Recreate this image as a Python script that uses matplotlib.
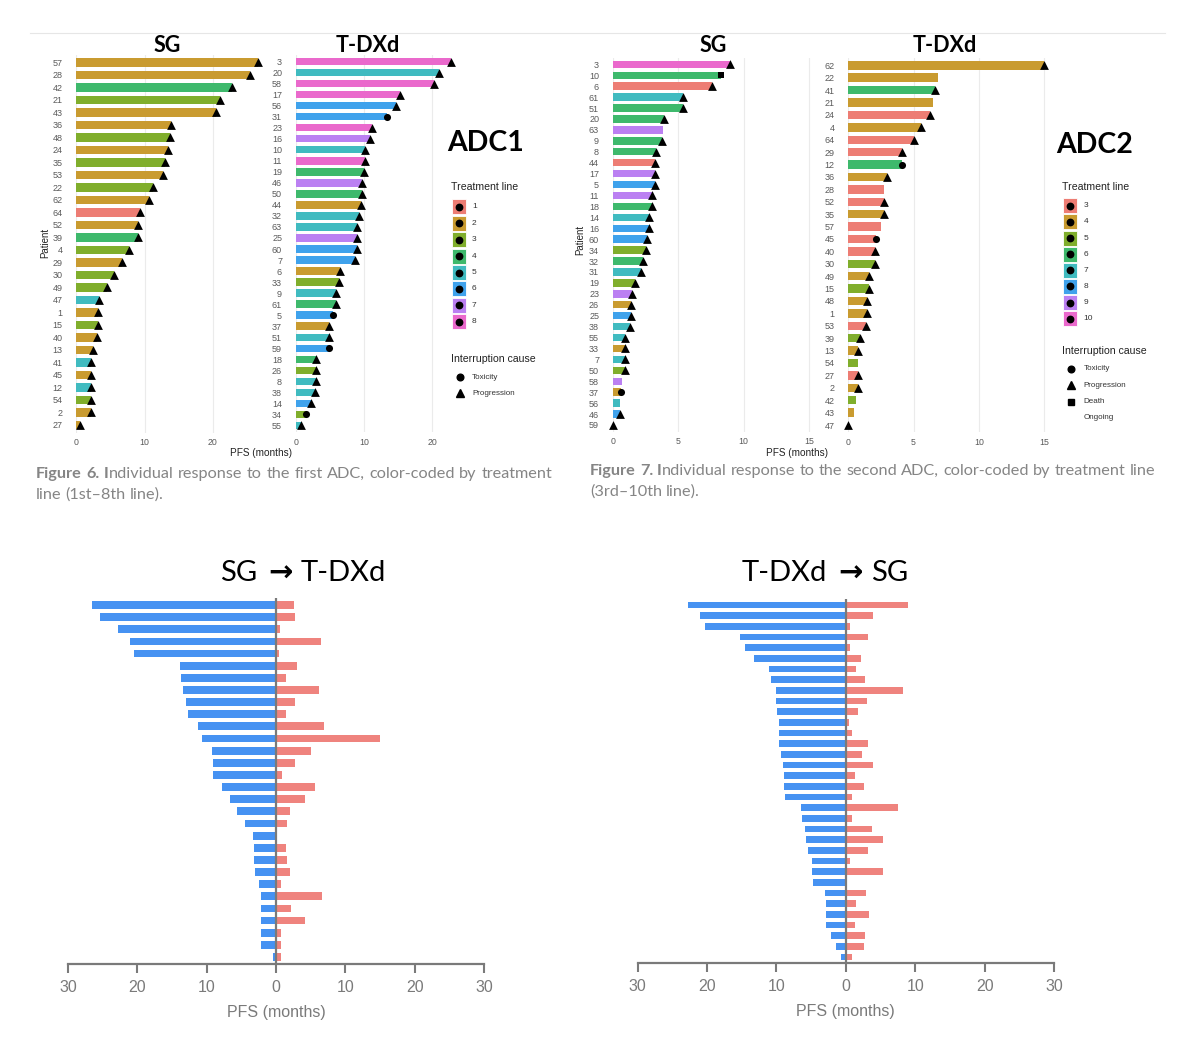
import matplotlib
matplotlib.use("Agg")
import matplotlib.pyplot as plt
from matplotlib.patches import Rectangle
import numpy as np

W, H = 1200, 1038

# ---- Figure 6: first ADC ----
adc1_sg_patient = [57, 28, 42, 21, 43, 36, 48, 24, 35, 53, 22, 62, 64, 52, 39,
                   4, 29, 30, 49, 47, 1, 15, 40, 13, 41, 45, 12, 54, 2, 27]
adc1_sg_pfs = [26.6, 25.4, 22.8, 21.0, 20.5, 13.9, 13.7, 13.4, 13.0, 12.7, 11.3, 10.7, 9.3, 9.1, 9.1,
               7.8, 6.7, 5.6, 4.5, 3.3, 3.2, 3.2, 3.0, 2.5, 2.2, 2.1, 2.1, 2.1, 2.1, 0.5]
adc1_sg_line = [2, 2, 4, 3, 2, 2, 3, 2, 3, 2, 3, 2, 1, 2, 4,
                3, 2, 3, 3, 5, 2, 3, 2, 2, 5, 2, 5, 3, 2, 2]
adc1_sg_cause = ["P", "P", "P", "P", "P", "P", "P", "P", "P", "P", "P", "P", "P", "P", "P",
                 "P", "P", "P", "P", "P", "P", "P", "P", "P", "P", "P", "P", "P", "P", "P"]

adc1_tdxd_patient = [3, 20, 58, 17, 56, 31, 23, 16, 10, 11, 19, 46, 50, 44, 32, 63, 25,
                     60, 7, 6, 33, 9, 61, 5, 37, 51, 59, 18, 26, 8, 38, 14, 34, 55]
adc1_tdxd_pfs = [22.8, 21.0, 20.3, 15.3, 14.6, 13.3, 11.1, 10.8, 10.1, 10.1, 9.9, 9.7, 9.7, 9.6, 9.3, 9.0, 8.9,
                 8.9, 8.7, 6.4, 6.3, 5.9, 5.8, 5.4, 4.9, 4.9, 4.8, 3.0, 2.9, 2.9, 2.8, 2.2, 1.4, 0.7]
adc1_tdxd_line = [8, 5, 8, 8, 6, 6, 8, 7, 5, 8, 4, 7, 4, 2, 5, 5, 7,
                  6, 6, 2, 3, 5, 4, 6, 2, 5, 6, 4, 3, 5, 5, 6, 3, 5]
adc1_tdxd_cause = ["P", "P", "P", "P", "P", "T", "P", "P", "P", "P", "P", "P", "P", "P", "P", "P", "P",
                   "P", "P", "P", "P", "P", "P", "T", "P", "P", "T", "P", "P", "P", "P", "P", "T", "P"]

# ---- Figure 7: second ADC ----
adc2_sg_patient = [3, 10, 6, 61, 51, 20, 63, 9, 8, 44, 17, 5, 11, 18, 14, 16, 60,
                   34, 32, 31, 19, 23, 26, 25, 38, 55, 33, 7, 50, 58, 37, 56, 46, 59]
adc2_sg_pfs = [8.95, 8.24, 7.58, 5.38, 5.33, 3.93, 3.85, 3.75, 3.29, 3.24, 3.24, 3.19, 2.98, 2.96, 2.78, 2.76, 2.58,
               2.55, 2.32, 2.14, 1.71, 1.45, 1.40, 1.35, 1.30, 0.94, 0.92, 0.94, 0.89, 0.66, 0.59, 0.56, 0.51, 0.0]
adc2_sg_line = [10, 6, 3, 7, 6, 6, 9, 6, 6, 3, 9, 8, 9, 6, 7, 8, 8,
                5, 6, 7, 5, 9, 4, 8, 7, 7, 4, 7, 5, 9, 4, 7, 8, 7]
adc2_sg_cause = ["P", "D", "P", "P", "P", "P", "O", "P", "P", "P", "P", "P", "P", "P", "P", "P", "P",
                 "P", "P", "P", "P", "P", "P", "P", "P", "P", "P", "P", "P", "O", "T", "O", "P", "P"]

adc2_tdxd_patient = [62, 22, 41, 21, 24, 4, 64, 29, 12, 36, 28, 52, 35, 57, 45,
                     40, 30, 49, 15, 48, 1, 53, 39, 13, 54, 27, 2, 42, 43, 47]
adc2_tdxd_pfs = [15.0, 6.9, 6.65, 6.47, 6.24, 5.58, 5.0, 4.14, 4.14, 2.99, 2.76, 2.74, 2.74, 2.53, 2.1,
                 2.08, 2.07, 1.61, 1.59, 1.41, 1.41, 1.38, 0.9, 0.74, 0.72, 0.72, 0.72, 0.61, 0.43, 0.0]
adc2_tdxd_line = [4, 4, 6, 4, 3, 4, 3, 3, 6, 4, 3, 3, 4, 3, 3,
                  3, 5, 4, 5, 4, 4, 3, 5, 4, 5, 3, 4, 5, 4, 6]
adc2_tdxd_cause = ["P", "O", "P", "O", "P", "P", "P", "P", "T", "P", "O", "P", "P", "O", "T",
                   "P", "P", "P", "P", "P", "P", "P", "P", "P", "O", "P", "P", "O", "O", "P"]

line_colors = ["#ED7D74", "#C99B30", "#80AE2C", "#3EB96C", "#40BBC0", "#3FA2EC", "#BB80F2", "#EA69CC"]
cause_markers = {"T": ("o", 26), "P": ("^", 40), "D": ("s", 24)}

blue = "#4692F2"
red = "#EF837E"
axis_grey = "#7a7a7a"
cap_grey = "#858585"

fig = plt.figure(figsize=(W / 100, H / 100), dpi=100)
ov = fig.add_axes([0, 0, 1, 1])
ov.set_xlim(0, W)
ov.set_ylim(H, 0)
ov.axis("off")
ov.set_zorder(10)
ov.patch.set_alpha(0)
renderer = fig.canvas.get_renderer()


def px_axes(left, top, right, bottom):
    return fig.add_axes([left / W, 1 - bottom / H, (right - left) / W, (bottom - top) / H])


def waterfall(x0, ppm, xmax, y_first, y_last, patients, pfs, lines, causes, first_line, ticks):
    n = len(patients)
    dy = (y_last - y_first) / (n - 1)
    ax = px_axes(x0, y_first - 0.6 * dy, x0 + xmax * ppm, y_last + 0.6 * dy)
    y = np.arange(n)
    pfs = np.array(pfs)
    colors = [line_colors[l - first_line] for l in lines]
    ax.barh(y, pfs, height=0.68, color=colors, zorder=2)
    for code, (mk, size) in cause_markers.items():
        m = np.array([c == code for c in causes])
        if m.any():
            ax.scatter(pfs[m], y[m], marker=mk, s=size, color="black", linewidths=0,
                       zorder=3, clip_on=False)
    ax.set_xlim(0, xmax)
    ax.set_ylim(n - 0.4, -0.6)
    ax.set_yticks(y, [str(p) for p in patients])
    ax.set_xticks(ticks)
    ax.set_axisbelow(True)
    ax.xaxis.grid(True, color="#ebebeb", lw=0.8)
    ax.patch.set_alpha(0)
    for s in ax.spines.values():
        s.set_visible(False)
    ax.tick_params(axis="y", length=0, pad=10, labelsize=6.5, labelcolor="#5a5a5a")
    ax.tick_params(axis="x", length=0, pad=4, labelsize=6.3, labelcolor="#5a5a5a")
    for lab in ax.get_xticklabels() + ax.get_yticklabels():
        lab.set_family("Liberation Sans")
    return ax


def treatment_legend(x, title_y, key_y0, key_dy, labels, cause_y, cause_dy, causes, adc, adc_xy):
    ov.text(adc_xy[0], adc_xy[1], adc, fontsize=20.5, fontweight="bold", family="Lato",
            ha="center", va="center")
    ov.text(x, title_y, "Treatment line", fontsize=7.6, family="Liberation Sans",
            color="#222222", va="center")
    for i, lab in enumerate(labels):
        yc = key_y0 + i * key_dy
        ov.add_patch(Rectangle((x + 0.5, yc - 7.5), 14, 15, facecolor=line_colors[i],
                               edgecolor="white", lw=0.6))
        ov.plot(x + 7.5, yc, "o", ms=4.6, color="black")
        ov.text(x + 21, yc, lab, fontsize=6, family="Liberation Sans", color="#333333", va="center")
    ov.text(x, cause_y, "Interruption cause", fontsize=7.6, family="Liberation Sans",
            color="#222222", va="center")
    for i, (mk, lab) in enumerate(causes):
        yc = cause_y + (i + 1) * cause_dy + 2
        if mk:
            ov.plot(x + 8.5, yc, mk, ms=4.8 if mk != "^" else 5.6, color="black")
        ov.text(x + 21, yc, lab, fontsize=5.8, family="Liberation Sans", color="#333333", va="center")


def caption(x0, x1, lines_y, lines_tokens):
    # first line is justified to x1, font size chosen so that normal spacing fits it
    def make(tokens, y, size):
        words = []
        for word in tokens:
            parts = []
            for seg, weight in word:
                t = ov.text(0, y, seg, fontsize=size, fontweight=weight, family="Lato",
                            color=cap_grey, va="center")
                parts.append(t)
            words.append(parts)
        return words

    def widths(words):
        return [sum(t.get_window_extent(renderer).width for t in parts) for parts in words]

    first = make(lines_tokens[0], lines_y[0], 10)
    w = widths(first)
    natural = sum(w) + (len(w) - 1) * 3.5
    size = 10 * (x1 - x0) / natural
    all_lines = [first] + [make(tk, y, size) for tk, y in zip(lines_tokens[1:], lines_y[1:])]
    for t in [t for word in first for t in word]:
        t.set_fontsize(size)
    for k, words in enumerate(all_lines):
        w = widths(words)
        gap = (x1 - x0 - sum(w)) / (len(w) - 1) if k == 0 else 0.25 * size * 1.39
        x = x0
        for parts, wsum in zip(words, w):
            xx = x
            for t in parts:
                t.set_x(xx)
                xx += t.get_window_extent(renderer).width
            x += wsum + gap


def plain(text, weight="normal"):
    return [[(w, weight)] for w in text.split()]


def arrow_title(xc, y, left, right):
    pieces = [ov.text(0, y, left, fontsize=21, family="Lato", va="center"),
              ov.text(0, y + 1, "\u2192", fontsize=21, family="DejaVu Sans", fontweight="bold",
                      va="center"),
              ov.text(0, y, right, fontsize=21, family="Lato", va="center")]
    gaps = [11, 8]
    ws = [p.get_window_extent(renderer).width for p in pieces]
    x = xc - (sum(ws) + sum(gaps)) / 2
    for p, w, g in zip(pieces, ws, gaps + [0]):
        p.set_x(x)
        x += w + g


def butterfly(x_l, x_r, y_first, y_last, left_vals, right_vals):
    n = len(left_vals)
    dy = (y_last - y_first) / (n - 1)
    ax = px_axes(x_l, y_first - 0.6 * dy, x_r, y_last + 0.6 * dy)
    y = np.arange(n)
    ax.barh(y, -np.array(left_vals), height=0.64, color=blue)
    ax.barh(y, right_vals, height=0.64, color=red)
    ax.axvline(0, color=axis_grey, lw=1.6, zorder=4)
    ax.set_xlim(-30, 30)
    ax.set_ylim(n - 0.4, -0.6)
    ticks = [-30, -20, -10, 0, 10, 20, 30]
    ax.set_xticks(ticks, [str(abs(t)) for t in ticks])
    ax.set_yticks([])
    for side in ["top", "left", "right"]:
        ax.spines[side].set_visible(False)
    ax.spines["bottom"].set_color(axis_grey)
    ax.spines["bottom"].set_linewidth(1.6)
    ax.tick_params(axis="x", length=6.5, width=1.5, color=axis_grey, labelsize=11.5,
                   labelcolor=axis_grey, pad=5)
    for lab in ax.get_xticklabels():
        lab.set_family("Liberation Sans")
    ax.set_xlabel("PFS (months)", fontsize=11.5, color=axis_grey, family="Liberation Sans",
                  labelpad=7)


# top separator line
ov.plot([30, 1165], [33, 33], color="#e6e6e6", lw=0.8)

# Figure 6 panels
waterfall(76.3, 6.82, 27.5, 62.3, 425.0, adc1_sg_patient, adc1_sg_pfs, adc1_sg_line,
          adc1_sg_cause, 1, [0, 10, 20])
waterfall(296.0, 6.82, 24.0, 61.5, 425.5, adc1_tdxd_patient, adc1_tdxd_pfs, adc1_tdxd_line,
          adc1_tdxd_cause, 1, [0, 10, 20])
ov.text(167, 45, "SG", fontsize=15.5, fontweight="bold", family="Lato", ha="center", va="center")
ov.text(368, 45, "T-DXd", fontsize=15.5, fontweight="bold", family="Lato", ha="center", va="center")
ov.text(45, 243, "Patient", rotation=90, fontsize=7, family="Liberation Sans", color="#222222",
        ha="center", va="center")
ov.text(261, 453, "PFS (months)", fontsize=7.2, family="Liberation Sans", color="#222222",
        ha="center", va="center")
treatment_legend(451, 187.5, 206.7, 16.45, ["1", "2", "3", "4", "5", "6", "7", "8"],
                 359, 16.2, [("o", "Toxicity"), ("^", "Progression")], "ADC1", (486, 143))

# Figure 7 panels
waterfall(613.0, 13.07, 15.5, 64.3, 425.0, adc2_sg_patient, adc2_sg_pfs, adc2_sg_line,
          adc2_sg_cause, 3, [0, 5, 10, 15])
waterfall(848.3, 13.05, 15.5, 65.3, 425.0, adc2_tdxd_patient, adc2_tdxd_pfs, adc2_tdxd_line,
          adc2_tdxd_cause, 3, [0, 5, 10, 15])
ov.text(713, 46, "SG", fontsize=15.5, fontweight="bold", family="Lato", ha="center", va="center")
ov.text(945, 45, "T-DXd", fontsize=15.5, fontweight="bold", family="Lato", ha="center", va="center")
ov.text(580, 240, "Patient", rotation=90, fontsize=7, family="Liberation Sans", color="#222222",
        ha="center", va="center")
ov.text(797, 453, "PFS (months)", fontsize=7.2, family="Liberation Sans", color="#222222",
        ha="center", va="center")
treatment_legend(1062.5, 187.3, 205.7, 16.15, ["3", "4", "5", "6", "7", "8", "9", "10"],
                 350.7, 16.3, [("o", "Toxicity"), ("^", "Progression"), ("s", "Death"), (None, "Ongoing")],
                 "ADC2", (1095, 145))

# captions
cap6 = [[("Figure", "bold")], [("6.", "bold")], [("I", "bold"), ("ndividual", "normal")]] + \
    plain("response to the first ADC, color-coded by treatment")
caption(36, 552, [474, 495], [cap6, plain("line (1st–8th line).")])
cap7 = [[("Figure", "bold")], [("7.", "bold")], [("I", "bold"), ("ndividual", "normal")]] + \
    plain("response to the second ADC, color-coded by treatment line")
caption(590, 1155, [471, 492], [cap7, plain("(3rd–10th line).")])

# bottom: sequence comparison built from the per-patient values above
tdxd2_by_patient = dict(zip(adc2_tdxd_patient, adc2_tdxd_pfs))
sg2_by_patient = dict(zip(adc2_sg_patient, adc2_sg_pfs))
sg_then_tdxd = [tdxd2_by_patient[p] for p in adc1_sg_patient]
tdxd_then_sg = [sg2_by_patient[p] for p in adc1_tdxd_patient]

butterfly(68.0, 484.0, 605.0, 957.0, adc1_sg_pfs, sg_then_tdxd)
butterfly(637.7, 1054.0, 605.0, 957.0, adc1_tdxd_pfs, tdxd_then_sg)
arrow_title(303, 573, "SG", "T-DXd")
arrow_title(825, 573, "T-DXd", "SG")

fig.savefig("out.png", dpi=100)
